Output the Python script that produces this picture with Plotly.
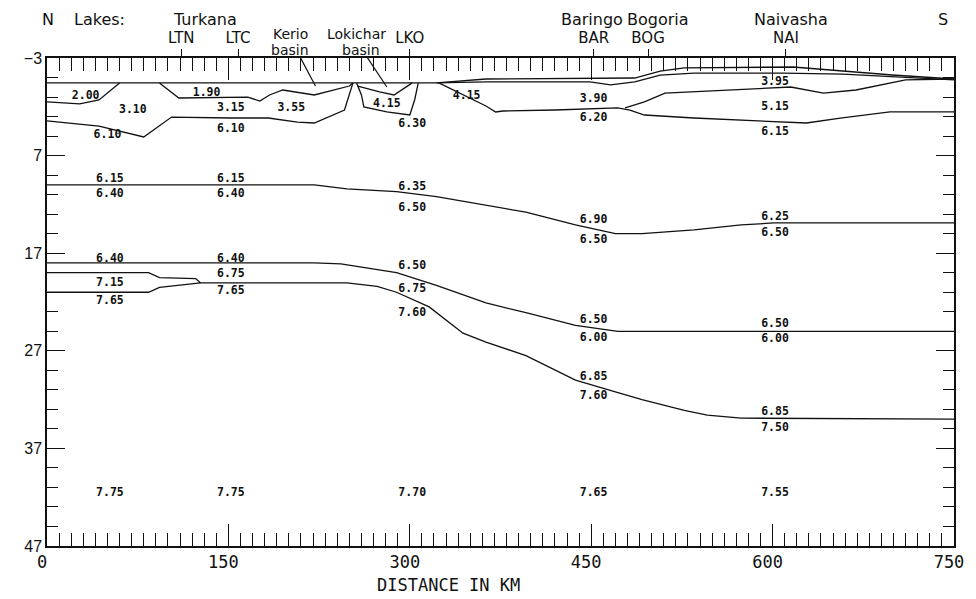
import plotly.graph_objects as go

# ---- layer boundaries along the N-S profile (distance km, depth km) ----
surface_km = [0, 322, 363, 486, 507, 527, 617, 658, 699, 750]
surface_z = [-0.45, -0.45, -0.85, -0.95, -1.65, -1.98, -2.08, -1.67, -1.26, -0.85]

cover_km = [322, 363, 449, 466, 486, 507, 535, 609, 658, 699, 750]
cover_z = [-0.45, -0.55, -0.55, -0.25, -0.55, -1.25, -1.45, -1.45, -1.35, -1.05, -0.75]

turkana_sed_km = [0, 27, 43, 60]
turkana_sed_z = [1.5, 1.7, 1.3, -0.45]

ltc_sed_km = [93, 109, 166, 176, 184, 195, 221, 250, 253]
ltc_sed_z = [-0.45, 1.1, 1.0, 1.41, 0.79, 0.28, 0.79, -0.13, -0.45]

north_basement_km = [0, 43, 80, 103, 152, 183, 207, 221, 246, 251, 253]
north_basement_z = [3.45, 3.97, 5.09, 3.05, 3.15, 3.15, 3.56, 3.66, 2.33, 0.48, -0.45]

lokichar_base_km = [256, 260, 262, 281, 300, 304, 307]
lokichar_base_z = [-0.45, 0.79, 2.02, 2.53, 2.84, 1.3, -0.45]

lokichar_upper_km = [257, 275, 287, 300, 302]
lokichar_upper_z = [-0.13, 0.48, 0.79, -0.23, -0.45]

south_sed_km = [324, 344, 363, 371, 377, 420, 472, 482, 494, 535, 568, 628, 656, 697, 750]
south_sed_z = [-0.45, 0.79, 1.92, 2.53, 2.43, 2.33, 2.12, 2.33, 2.84, 3.15, 3.35, 3.66, 3.15, 2.53, 2.53]

naivasha_vol_km = [478, 494, 511, 568, 615, 642, 669, 710, 750]
naivasha_vol_z = [2.12, 1.5, 0.59, 0.28, -0.03, 0.59, 0.28, -0.75, -0.85]

midcrust_km = [0, 221, 248, 289, 322, 363, 396, 437, 470, 492, 535, 574, 601, 750]
midcrust_z = [10.0, 10.0, 10.4, 10.7, 11.2, 12.1, 12.8, 14.1, 15.0, 15.0, 14.6, 14.1, 13.9, 13.9]

lowercrust_km = [0, 221, 243, 289, 322, 363, 396, 437, 472, 750]
lowercrust_z = [18.0, 18.0, 18.1, 19.0, 20.3, 22.1, 23.1, 24.4, 25.0, 25.0]

pillow_top_km = [0, 84, 93, 123, 127]
pillow_top_z = [19.0, 19.0, 19.5, 19.6, 20.05]

moho_km = [0, 84, 93, 123, 127, 248, 273, 289, 316, 344, 363, 396, 437, 470, 492, 527, 546, 574, 750]
moho_z = [21.0, 21.0, 20.5, 20.15, 20.05, 20.05, 20.4, 21.0, 22.5, 25.2, 26.1, 27.5, 30.0, 31.2, 32.0, 33.1, 33.6, 33.9, 34.0]

boundaries = [
    (surface_km, surface_z), (cover_km, cover_z),
    (turkana_sed_km, turkana_sed_z), (ltc_sed_km, ltc_sed_z),
    (north_basement_km, north_basement_z),
    (lokichar_base_km, lokichar_base_z), (lokichar_upper_km, lokichar_upper_z),
    (south_sed_km, south_sed_z), (naivasha_vol_km, naivasha_vol_z),
    (midcrust_km, midcrust_z), (lowercrust_km, lowercrust_z),
    (pillow_top_km, pillow_top_z), (moho_km, moho_z),
]

# ---- P-wave velocity labels (km/s) ----
vel_km = [32, 71, 50, 132, 152, 152, 202, 281, 302, 347, 452, 452, 602, 602, 602,
          52, 52, 152, 152, 302, 302, 452, 452, 602, 602,
          52, 152, 152, 52, 52, 152, 302, 302, 302,
          452, 452, 452, 452, 602, 602, 602, 602,
          52, 152, 302, 452, 602]
vel_z = [0.89, 2.33, 4.95, 0.6, 2.12, 4.27, 2.12, 1.71, 3.76, 0.89, 1.2, 3.15, -0.54, 2.02, 4.58,
         9.4, 10.93, 9.4, 10.93, 10.2, 12.4, 13.6, 15.65, 13.3, 14.93,
         17.6, 17.6, 19.1, 20.05, 21.9, 20.9, 18.3, 20.67, 23.1,
         23.85, 25.7, 29.7, 31.6, 24.25, 25.8, 33.3, 34.9,
         41.6, 41.6, 41.6, 41.6, 41.6]
vel_text = ["2.00", "3.10", "6.10", "1.90", "3.15", "6.10", "3.55", "4.15", "6.30", "4.15",
            "3.90", "6.20", "3.95", "5.15", "6.15",
            "6.15", "6.40", "6.15", "6.40", "6.35", "6.50", "6.90", "6.50", "6.25", "6.50",
            "6.40", "6.40", "6.75", "7.15", "7.65", "7.65", "6.50", "6.75", "7.60",
            "6.50", "6.00", "6.85", "7.60", "6.50", "6.00", "6.85", "7.50",
            "7.75", "7.75", "7.70", "7.65", "7.55"]

# ---- stations and lakes along the top ----
station_km = [111, 158, 300, 452, 497, 611]
station_names = ["LTN", "LTC", "LKO", "BAR", "BOG", "NAI"]
lake_km = [131, 451, 505, 615]
lake_names = ["Turkana", "Baringo", "Bogoria", "Naivasha"]

INK = "#111111"
fig = go.Figure()

for bx, bz in boundaries:
    fig.add_trace(go.Scatter(x=bx, y=bz, mode="lines",
                             line=dict(color=INK, width=1.3),
                             hoverinfo="skip", showlegend=False))

fig.add_trace(go.Scatter(x=vel_km, y=vel_z, text=vel_text, mode="text",
                         textposition="middle center",
                         textfont=dict(family="DejaVu Sans Mono", size=11.5,
                                       color=INK, weight="bold"),
                         hoverinfo="skip", showlegend=False))

# carrier trace for the station axis on top
fig.add_trace(go.Scatter(x=[None], y=[None], xaxis="x2", yaxis="y",
                         hoverinfo="skip", showlegend=False))

annotations = []
top_font = dict(family="DejaVu Sans", size=16, color=INK)
basin_font = dict(family="DejaVu Sans", size=14, color=INK)


def top_text(xk, yp, word, font=top_font):
    return dict(x=xk, y=yp, xref="x", yref="paper", text=word, showarrow=False,
                xanchor="center", yanchor="middle", font=font)


annotations.append(top_text(1, 1.0779, "N"))
annotations.append(top_text(741, 1.0779, "S"))
annotations.append(top_text(43, 1.0779, "Lakes:"))
for lk, ln in zip(lake_km, lake_names):
    annotations.append(top_text(lk, 1.0779, ln))
for bx, word, yy in [(201, "Kerio", 1.0482), (201, "basin", 1.0154),
                     (256, "Lokichar", 1.0482), (260, "basin", 1.0154)]:
    annotations.append(top_text(bx, yy, word, basin_font))
# pointers from the basin names down to the basins
for tail_km, tail_z, head_km, head_z in [(208, -3.4, 222, -0.13), (263, -3.4, 281, -0.03)]:
    annotations.append(dict(x=head_km, y=head_z, xref="x", yref="y",
                            ax=tail_km, ay=tail_z, axref="x", ayref="y",
                            text=" ", font=dict(size=1), showarrow=True,
                            arrowhead=0, arrowwidth=1.2, arrowcolor=INK,
                            standoff=0, startstandoff=0))
annotations.append(dict(x=332, y=-0.08, xref="x", yref="paper", text="DISTANCE IN KM",
                        showarrow=False, xanchor="center", yanchor="middle",
                        font=dict(family="DejaVu Sans Mono", size=17, color=INK)))

fig.update_layout(
    width=976, height=599,
    margin=dict(l=47, r=14, t=58, b=53),
    paper_bgcolor="white", plot_bgcolor="white",
    showlegend=False,
    annotations=annotations,
    xaxis=dict(range=[0, 750], tick0=0, dtick=150, ticks="inside", ticklen=22,
               tickwidth=1.3, tickcolor=INK, showline=True, linecolor=INK,
               linewidth=1.5, mirror="ticks", showgrid=False, zeroline=False,
               ticklabelshift=-5, ticklabeloverflow="allow",
               tickfont=dict(family="DejaVu Sans Mono", size=17, color=INK),
               minor=dict(tick0=0, dtick=10, ticks="inside", ticklen=13,
                          tickwidth=1.3, tickcolor=INK, showgrid=False)),
    xaxis2=dict(range=[0, 750], overlaying="x", side="top", tickmode="array",
                tickvals=station_km, ticktext=station_names, ticks="outside",
                ticklen=8, tickwidth=1.3, tickcolor=INK, showline=False,
                showgrid=False, zeroline=False,
                tickfont=dict(family="DejaVu Sans", size=15, color=INK)),
    yaxis=dict(range=[47, -3], tick0=-3, dtick=10, ticks="inside", ticklen=18,
               tickwidth=1.3, tickcolor=INK, showline=True, linecolor=INK,
               linewidth=1.5, mirror="ticks", showgrid=False, zeroline=False,
               tickfont=dict(family="Liberation Sans", size=16, color=INK),
               minor=dict(tick0=-3, dtick=2, ticks="inside", ticklen=11,
                          tickwidth=1.3, tickcolor=INK, showgrid=False)),
)

fig.write_html("out.html")
